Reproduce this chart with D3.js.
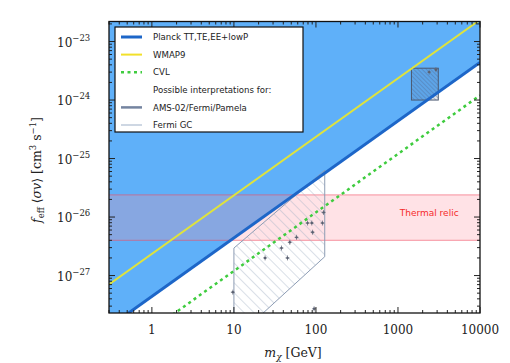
<!DOCTYPE html>
<meta charset="utf-8">
<body style="margin:0;background:#fff">
<script src="https://cdn.jsdelivr.net/npm/d3@7"></script>
<script>

// values
var xTicks = [1, 10, 100, 1000, 10000];
var yTickExps = [-27, -26, -25, -24, -23];

var planckMass = [0.3, 10000];
var planckSigma = [1.32e-28, 4.4e-24];
var wmapMass = [0.3, 10000];
var wmapSigma = [7.05e-28, 2.35e-23];
var cvlMass = [0.3, 10000];
var cvlSigma = [3.6e-29, 1.2e-24];

var thermalBand = [4.0e-27, 2.4e-26];

var amsMass = [1460, 3100];
var amsSigma = [1.0e-24, 3.5e-24];
var amsPtsMass = [2400, 2900];
var amsPtsSigma = [3.0e-24, 3.3e-24];

var gcMass = [10, 128, 128, 10];
var gcSigma = [2.95e-27, 6.3e-26, 2.1e-27, 8e-29];
var gcPtsMass = [9.7, 24, 45, 38, 48, 58, 79, 89, 91, 120, 124, 95];
var gcPtsSigma = [5.2e-28, 2.0e-27, 2.0e-27, 2.95e-27, 3.7e-27, 4.5e-27, 7.9e-27, 7.9e-27, 5.5e-27, 7.9e-27, 1.2e-26, 2.7e-28];

var legendNames = ["Planck TT,TE,EE+lowP", "WMAP9", "CVL", "Possible interpretations for:",
                   "AMS-02/Fermi/Pamela", "Fermi GC"];

var width = 510, height = 363;
var pLeft = 109, pRight = 480, pTop = 21.5, pBottom = 313;

var svg = d3.select("body").append("svg")
    .attr("width", width)
    .attr("height", height)
    .style("font-family", "'DejaVu Serif', serif");

var x = d3.scaleLog().domain([0.3, 10000]).range([pLeft, pRight]);
var y = d3.scaleLog().domain([2.29e-28, 2.2e-23]).range([pBottom, pTop]);

var defs = svg.append("defs");
defs.append("clipPath").attr("id", "clip")
  .append("rect").attr("x", pLeft).attr("y", pTop)
  .attr("width", pRight - pLeft).attr("height", pBottom - pTop);

function makeHatch(id, col, gap) {
  var p = defs.append("pattern").attr("id", id)
      .attr("patternUnits", "userSpaceOnUse")
      .attr("width", gap).attr("height", gap)
      .attr("patternTransform", "rotate(-45)");
  p.append("line").attr("x1", 0).attr("y1", 0).attr("x2", 0).attr("y2", gap)
      .attr("stroke", col).attr("stroke-width", 0.8);
}
makeHatch("hatch", "#9fb0c4", 7);
makeHatch("hatch2", "#4f6d9a", 3);

var plot = svg.append("g").attr("clip-path", "url(#clip)");

// excluded region above Planck
var pl = d3.zip(planckMass, planckSigma);
plot.append("path")
  .attr("d", "M" + x(pl[0][0]) + "," + y(pl[0][1]) + "L" + x(pl[1][0]) + "," + y(pl[1][1]) +
             "L" + x(pl[1][0]) + "," + y(1e-20) + "L" + x(pl[0][0]) + "," + y(1e-20) + "Z")
  .attr("fill", "#5fb0f9");

// thermal relic band
plot.append("rect")
  .attr("x", pLeft).attr("width", pRight - pLeft)
  .attr("y", y(thermalBand[1])).attr("height", y(thermalBand[0]) - y(thermalBand[1]))
  .attr("fill", "#ff8a9a").attr("fill-opacity", 0.25);
thermalBand.forEach(function(v) {
  plot.append("line").attr("x1", pLeft).attr("x2", pRight)
    .attr("y1", y(v)).attr("y2", y(v))
    .attr("stroke", "#f04a60").attr("stroke-opacity", 0.45).attr("stroke-width", 1.3);
});

// Fermi GC hatched region
var line = d3.line().x(function(d){return x(d[0]);}).y(function(d){return y(d[1]);});
plot.append("path")
  .attr("d", line(d3.zip(gcMass, gcSigma)) + "Z")
  .attr("fill", "url(#hatch)")
  .attr("stroke", "#8c9cb4").attr("stroke-width", 1);

// AMS box
plot.append("rect")
  .attr("x", x(amsMass[0])).attr("width", x(amsMass[1]) - x(amsMass[0]))
  .attr("y", y(amsSigma[1])).attr("height", y(amsSigma[0]) - y(amsSigma[1]))
  .attr("fill", "url(#hatch2)")
  .attr("stroke", "#4a5870").attr("stroke-width", 1);
plot.append("rect")
  .attr("x", x(amsMass[0])).attr("width", x(amsMass[1]) - x(amsMass[0]))
  .attr("y", y(amsSigma[1])).attr("height", y(amsSigma[0]) - y(amsSigma[1]))
  .attr("fill", "#55677f").attr("fill-opacity", 0.15);

// lines
plot.append("path").attr("d", line(d3.zip(wmapMass, wmapSigma)))
  .attr("fill", "none").attr("stroke", "#dfe33c").attr("stroke-width", 2);
plot.append("path").attr("d", line(d3.zip(cvlMass, cvlSigma)))
  .attr("fill", "none").attr("stroke", "#3fcc3f").attr("stroke-width", 2.5)
  .attr("stroke-dasharray", "3,3.5");
plot.append("path").attr("d", line(pl))
  .attr("fill", "none").attr("stroke", "#1d66c8").attr("stroke-width", 3);

// interpretation points
function pts(ms, ss) {
  var g = plot.append("g").selectAll("g").data(d3.zip(ms, ss)).enter().append("g")
    .attr("transform", function(d){return "translate(" + x(d[0]) + "," + y(d[1]) + ")";});
  g.append("line").attr("x1", 0).attr("x2", 0).attr("y1", -2.5).attr("y2", 2.5)
    .attr("stroke", "#6a7080").attr("stroke-width", 0.8);
  g.append("line").attr("x1", -2).attr("x2", 2).attr("y1", 0).attr("y2", 0)
    .attr("stroke", "#6a7080").attr("stroke-width", 0.8);
  g.append("circle").attr("r", 1.2).attr("fill", "#5a6070");
}
pts(gcPtsMass, gcPtsSigma);
pts(amsPtsMass, amsPtsSigma);

// thermal relic label
svg.append("text")
  .attr("x", x(2400)).attr("y", y(1.05e-26))
  .attr("text-anchor", "middle")
  .style("font-family", "'DejaVu Sans', sans-serif")
  .style("font-size", "9px")
  .attr("fill", "#f52a2a")
  .text("Thermal relic");

// ticks (inward, all sides)
var axes = svg.append("g").attr("stroke", "#222");
var xMinor = [], yMinor = [];
for (var e = -1; e <= 4; e++)
  for (var k = 1; k < 10; k++) {
    var v = k * Math.pow(10, e);
    if (v >= 0.3 && v <= 10000) xMinor.push([v, k == 1]);
  }
for (var e = -29; e <= -23; e++)
  for (var k = 1; k < 10; k++) {
    var v = k * Math.pow(10, e);
    if (v >= 2.29e-28 && v <= 2.2e-23) yMinor.push([v, k == 1]);
  }
xMinor.forEach(function(t) {
  var L = t[1] ? 6 : 3;
  axes.append("line").attr("x1", x(t[0])).attr("x2", x(t[0])).attr("y1", pBottom).attr("y2", pBottom - L);
  axes.append("line").attr("x1", x(t[0])).attr("x2", x(t[0])).attr("y1", pTop).attr("y2", pTop + L);
});
yMinor.forEach(function(t) {
  var L = t[1] ? 6 : 3;
  axes.append("line").attr("y1", y(t[0])).attr("y2", y(t[0])).attr("x1", pLeft).attr("x2", pLeft + L);
  axes.append("line").attr("y1", y(t[0])).attr("y2", y(t[0])).attr("x1", pRight).attr("x2", pRight - L);
});

svg.append("rect")
  .attr("x", pLeft).attr("y", pTop).attr("width", pRight - pLeft).attr("height", pBottom - pTop)
  .attr("fill", "none").attr("stroke", "#111").attr("stroke-width", 1.3);

// tick labels
svg.selectAll("text.xt").data(xTicks).enter().append("text")
  .attr("class", "xt")
  .attr("x", function(d){return x(d);}).attr("y", 334)
  .attr("text-anchor", "middle")
  .style("font-size", "12px").attr("fill", "#222")
  .text(function(d){return d;});

var yt = svg.selectAll("text.yt").data(yTickExps).enter().append("text")
  .attr("class", "yt")
  .attr("x", 57).attr("y", function(d){return y(Math.pow(10, d)) + 5;})
  .style("font-size", "12px").attr("fill", "#222");
yt.append("tspan").text("10");
yt.append("tspan").attr("dy", -6).style("font-size", "8.5px")
  .text(function(d){return "\u2212" + (-d);});

// axis titles
var xl = svg.append("text").attr("x", 293).attr("y", 357).attr("text-anchor", "middle")
  .style("font-size", "12.5px").attr("fill", "#222");
xl.append("tspan").style("font-style", "italic").text("m");
xl.append("tspan").attr("dy", 3).style("font-size", "9px").style("font-style", "italic").text("\u03c7");
xl.append("tspan").attr("dy", -3).text(" [GeV]");

var yl = svg.append("text").attr("transform", "translate(41,170) rotate(-90)")
  .attr("text-anchor", "middle").style("font-size", "12.5px").attr("fill", "#222");
yl.append("tspan").style("font-style", "italic").text("f");
yl.append("tspan").attr("dy", 3).style("font-size", "8.5px").text("eff");
yl.append("tspan").attr("dy", -3).text(" \u27e8");
yl.append("tspan").style("font-style", "italic").text("\u03c3v");
yl.append("tspan").text("\u27e9 [cm");
yl.append("tspan").attr("dy", -5).style("font-size", "8.5px").text("3");
yl.append("tspan").attr("dy", 5).text(" s");
yl.append("tspan").attr("dy", -5).style("font-size", "8.5px").text("\u22121");
yl.append("tspan").attr("dy", 5).text("]");

// legend
var lg = svg.append("g").attr("transform", "translate(115,27)");
lg.append("rect").attr("width", 188).attr("height", 105)
  .attr("fill", "#fff").attr("stroke", "#111").attr("stroke-width", 1.2);
var legStyles = [
  {stroke: "#1d66c8", w: 3},
  {stroke: "#f2e02a", w: 2},
  {stroke: "#3fcc3f", w: 2.5, dash: "3,3.5"},
  null,
  {stroke: "#7484a0", w: 2.5},
  {stroke: "#aebcd0", w: 1.2}
];
legendNames.forEach(function(name, i) {
  var yy = 10 + i * 17.6;
  var s = legStyles[i];
  if (s) lg.append("line").attr("x1", 6).attr("x2", 27).attr("y1", yy).attr("y2", yy)
    .attr("stroke", s.stroke).attr("stroke-width", s.w)
    .attr("stroke-dasharray", s.dash || null);
  lg.append("text").attr("x", 38).attr("y", yy + 3.2)
    .style("font-family", "'DejaVu Sans', sans-serif").style("font-size", "8.6px")
    .attr("fill", "#222").text(name);
});

</script>
</body>
